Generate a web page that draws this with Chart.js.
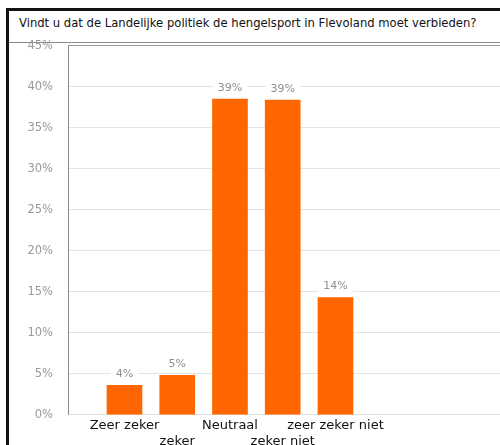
<!DOCTYPE html>
<html>
<head>
<meta charset="utf-8">
<script src="https://cdn.jsdelivr.net/npm/chart.js@4"></script>
<style>
  html,body{margin:0;padding:0;background:#fff;overflow:hidden;width:500px;height:445px;}
  #frame{position:absolute;left:6px;top:8px;width:700px;height:700px;border-left:3px solid #111;border-top:3px solid #111;}
  #title{position:absolute;left:19px;top:16px;font-family:"DejaVu Sans",sans-serif;font-size:11.6px;color:#111;white-space:nowrap;}
  #sep{position:absolute;left:9px;top:42px;width:600px;height:1px;background:#8a8a8a;}
  #wrap{position:absolute;left:0;top:24px;width:500px;height:428px;}
</style>
</head>
<body>
<div id="frame"></div>
<div id="title">Vindt u dat de Landelijke politiek de hengelsport in Flevoland moet verbieden?</div>
<div id="sep"></div>
<div id="wrap"><canvas id="c"></canvas></div>
<script>
const categories = ['Zeer zeker', 'zeker', 'Neutraal', 'zeker niet', 'zeer zeker niet'];
const values = [3.6, 4.8, 38.5, 38.4, 14.3];
const valueLabels = ['4%', '5%', '39%', '39%', '14%'];
const yTicks = [0, 5, 10, 15, 20, 25, 30, 35, 40, 45];

const valueLabelPlugin = {
  id: 'valueLabels',
  afterDatasetsDraw(chart) {
    const ctx = chart.ctx;
    const meta = chart.getDatasetMeta(0);
    ctx.save();
    ctx.font = '11px "DejaVu Sans"';
    ctx.textAlign = 'center';
    ctx.textBaseline = 'middle';
    meta.data.forEach((bar, i) => {
      const t = valueLabels[i];
      const w = ctx.measureText(t).width;
      const y = bar.y - 11;
      ctx.fillStyle = '#ffffff';
      ctx.fillRect(bar.x - w / 2 - 5, y - 7, w + 10, 14);
      ctx.fillStyle = '#8f8f8f';
      ctx.fillText(t, bar.x, y);
    });
    ctx.restore();
  }
};

new Chart(document.getElementById('c'), {
  type: 'bar',
  data: {
    datasets: [{
      data: categories.map((c, i) => ({ x: i, y: values[i] })),
      backgroundColor: '#ff6600',
      barThickness: 35
    }]
  },
  options: {
    responsive: true,
    maintainAspectRatio: false,
    animation: false,
    layout: { padding: { left: 0, right: 0, top: 0, bottom: 0 } },
    plugins: { legend: { display: false }, tooltip: { enabled: false } },
    scales: {
      x: {
        type: 'linear',
        offset: false,
        min: -1.071,
        max: 7.12,
        afterBuildTicks: s => { s.ticks = categories.map((c, i) => ({ value: i })); },
        grid: { display: false, drawTicks: false },
        border: { display: false },
        ticks: {
          autoSkip: false,
          maxRotation: 0,
          padding: 3,
          color: '#111',
          font: { family: 'DejaVu Sans', size: 13 },
          callback: v => (v % 2 === 0 ? categories[v] : ['', categories[v]])
        }
      },
      y: {
        min: 0,
        max: 45,
        afterBuildTicks: s => { s.ticks = yTicks.map(v => ({ value: v })); },
        afterFit: s => { s.width = 68; },
        grid: {
          drawTicks: false,
          color: ctx => (ctx.tick && ctx.tick.value === 45 ? '#9a9a9a' : '#e3e3e3')
        },
        border: { display: true, color: '#8a8a8a', width: 1 },
        ticks: {
          padding: 15,
          color: '#999999',
          font: { family: 'DejaVu Sans', size: 11.5 },
          callback: v => v + '%'
        }
      }
    }
  },
  plugins: [valueLabelPlugin]
});
</script>
</body>
</html>
